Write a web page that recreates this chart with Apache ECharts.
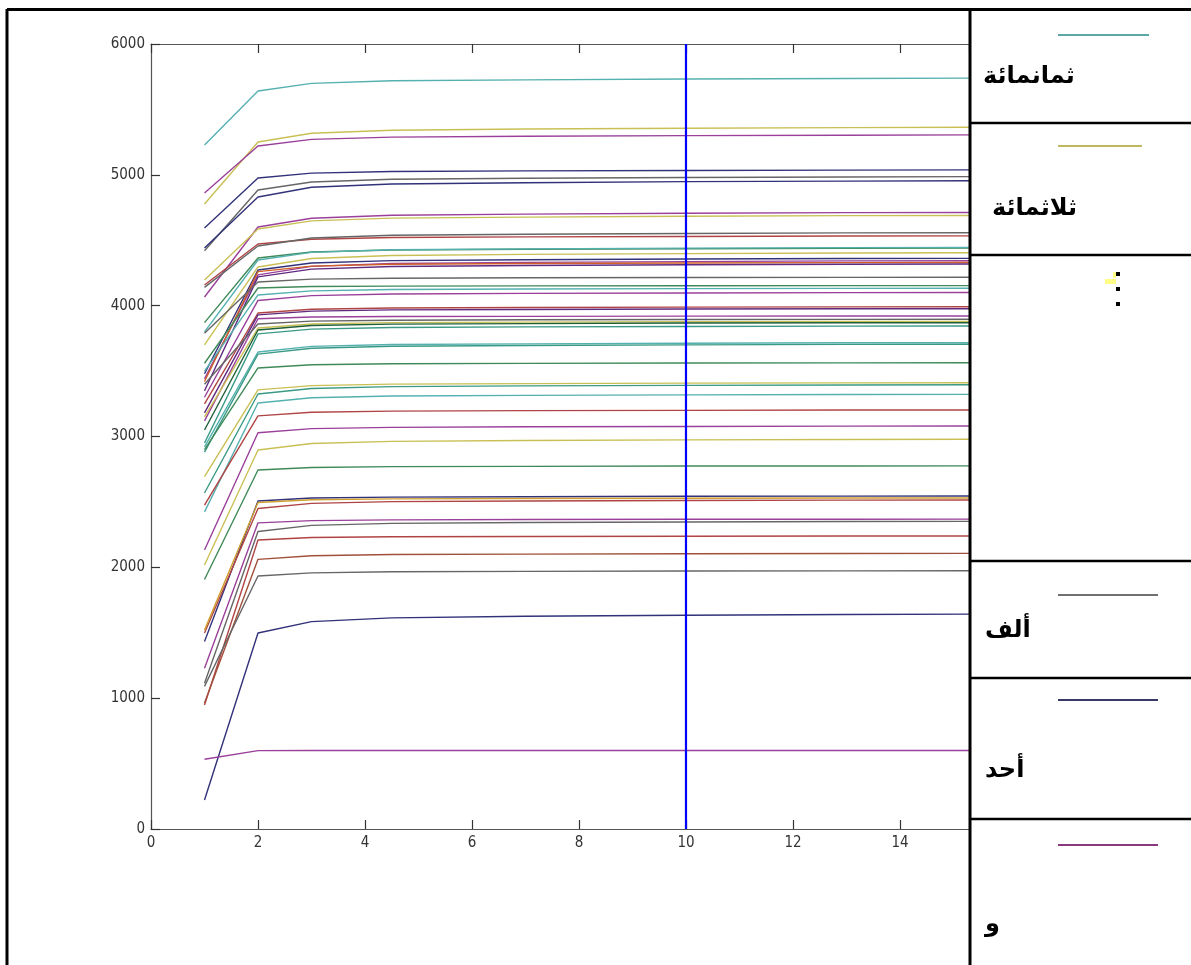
<!DOCTYPE html>
<html>
<head>
<meta charset="utf-8">
<script src="https://cdn.jsdelivr.net/npm/echarts@6/dist/echarts.min.js"></script>
<style>
html,body{margin:0;padding:0;background:#fff;}
#chart{width:1191px;height:965px;}
</style>
</head>
<body>
<div id="chart"></div>
<script>
// ---- data ----
const xPoints = [1, 2, 3, 4.5, 7, 10, 13, 16];
const yTicks = [0, 1000, 2000, 3000, 4000, 5000, 6000];
const xTicks = [0, 2, 4, 6, 8, 10, 12, 14];
const markerX = 10;

const line01 = [5228, 5641, 5699, 5719, 5726, 5732, 5736, 5740];
const line02 = [4777, 5251, 5318, 5341, 5350, 5356, 5361, 5365];
const line03 = [4861, 5220, 5271, 5288, 5295, 5300, 5303, 5306];
const line04 = [4594, 4976, 5013, 5025, 5030, 5033, 5036, 5038];
const line05 = [4420, 4884, 4945, 4966, 4974, 4980, 4984, 4987];
const line06 = [4441, 4831, 4905, 4930, 4940, 4948, 4952, 4956];
const line07 = [4066, 4601, 4668, 4691, 4700, 4706, 4711, 4713];
const line08 = [4196, 4586, 4648, 4669, 4677, 4684, 4688, 4690];
const line09 = [4158, 4471, 4508, 4521, 4526, 4529, 4532, 4534];
const line10 = [4140, 4456, 4517, 4538, 4546, 4552, 4556, 4558];
const line11 = [3870, 4364, 4410, 4425, 4431, 4435, 4438, 4440];
const line12 = [3800, 4349, 4407, 4427, 4434, 4440, 4444, 4446];
const line13 = [3700, 4296, 4361, 4383, 4392, 4398, 4403, 4405];
const line14 = [3480, 4273, 4326, 4344, 4351, 4357, 4360, 4362];
const line15 = [3440, 4235, 4300, 4322, 4331, 4337, 4342, 4344];
const line16 = [3420, 4260, 4302, 4316, 4322, 4326, 4329, 4330];
const line17 = [3350, 4220, 4279, 4299, 4307, 4313, 4317, 4319];
const line18 = [3790, 4181, 4203, 4210, 4213, 4215, 4216, 4217];
const line19 = [3560, 4135, 4146, 4149, 4151, 4152, 4153, 4153];
const line20 = [3500, 4082, 4113, 4123, 4127, 4130, 4132, 4133];
const line21 = [3300, 4040, 4077, 4089, 4094, 4097, 4100, 4101];
const line22 = [3250, 3944, 3973, 3982, 3986, 3989, 3991, 3992];
const line23 = [3180, 3930, 3958, 3968, 3971, 3974, 3976, 3977];
const line24 = [3120, 3900, 3913, 3917, 3918, 3920, 3921, 3921];
const line25 = [3400, 3860, 3882, 3889, 3892, 3894, 3895, 3896];
const line26 = [3150, 3829, 3860, 3870, 3874, 3877, 3879, 3880];
const line27 = [3050, 3814, 3848, 3859, 3863, 3867, 3869, 3870];
const line28 = [2950, 3784, 3821, 3833, 3838, 3841, 3844, 3845];
const line29 = [2920, 3646, 3689, 3703, 3708, 3713, 3716, 3717];
const line30 = [2880, 3630, 3675, 3690, 3696, 3700, 3704, 3705];
const line31 = [2900, 3524, 3548, 3556, 3559, 3562, 3563, 3564];
const line32 = [2693, 3356, 3389, 3400, 3404, 3408, 3410, 3411];
const line33 = [2568, 3325, 3367, 3381, 3387, 3391, 3394, 3396];
const line34 = [2424, 3256, 3296, 3309, 3314, 3318, 3321, 3322];
const line35 = [2476, 3158, 3185, 3194, 3198, 3200, 3202, 3203];
const line36 = [2132, 3029, 3060, 3070, 3074, 3077, 3079, 3080];
const line37 = [2018, 2897, 2946, 2963, 2969, 2974, 2977, 2979];
const line38 = [1907, 2744, 2763, 2770, 2772, 2774, 2775, 2776];
const line39 = [1434, 2507, 2530, 2537, 2540, 2543, 2544, 2545];
const line40 = [1498, 2450, 2489, 2502, 2507, 2511, 2514, 2515];
const line41 = [1520, 2495, 2516, 2523, 2526, 2528, 2530, 2530];
const line42 = [1228, 2340, 2357, 2363, 2366, 2367, 2368, 2369];
const line43 = [1114, 2274, 2321, 2336, 2343, 2347, 2350, 2352];
const line44 = [948, 2209, 2228, 2234, 2236, 2238, 2239, 2240];
const line45 = [963, 2061, 2089, 2098, 2101, 2104, 2106, 2107];
const line46 = [1090, 1934, 1958, 1966, 1969, 1972, 1973, 1974];
const line47 = [222, 1498, 1585, 1614, 1626, 1634, 1640, 1643];
const line48 = [533, 599, 600, 600, 600, 600, 600, 600];

const lineValues = [line01, line02, line03, line04, line05, line06, line07, line08,
  line09, line10, line11, line12, line13, line14, line15, line16, line17, line18,
  line19, line20, line21, line22, line23, line24, line25, line26, line27, line28,
  line29, line30, line31, line32, line33, line34, line35, line36, line37, line38,
  line39, line40, line41, line42, line43, line44, line45, line46, line47, line48];

// colour names per line
const lineColorNames = ['teal','yellow','purple','navy','gray','navy','purple','yellow',
  'red','gray','green','teal','yellow','navy','purple','orange','plum','gray',
  'green','teal','purple','red','plum','purple','gray','yellow','dkgreen','seagreen',
  'teal','seagreen','green','yellow','seagreen','teal','red','purple','yellow','green',
  'navy','red','orange2','purple','gray','red','brown','gray','navy','purple'];

const legendLabels = ['ثمانمائة', 'ثلاثمائة', 'ألف', 'أحد', 'و'];

// ---- styles ----
const palette = {
  teal: '#55b0b0', yellow: '#c9c055', purple: '#9a409a', navy: '#32327a',
  gray: '#666666', red: '#b04444', green: '#3f8a58', dkgreen: '#1f5f3a',
  seagreen: '#3a9a85', orange: '#d06028', orange2: '#d0a030', plum: '#602a80',
  brown: '#a0503a'
};

const series = lineValues.map(function (vals, i) {
  return {
    type: 'line',
    data: vals.map(function (v, j) { return [xPoints[j], v]; }),
    showSymbol: false,
    symbol: 'none',
    silent: true,
    lineStyle: { width: 1.4, color: palette[lineColorNames[i]] },
    z: 2
  };
});
series.push({
  type: 'line',
  data: [[markerX, yTicks[0]], [markerX, yTicks[yTicks.length - 1]]],
  showSymbol: false, symbol: 'none', silent: true,
  lineStyle: { width: 2.2, color: '#0000ff' },
  z: 3
});

const axisFont = { fontFamily: '"Liberation Sans Narrow", "DejaVu Sans Condensed", "Liberation Sans", Arial, sans-serif', fontSize: 15, color: '#333' };

const arabicFont = '"DejaVu Sans", "Noto Sans", sans-serif';

function hline(x1, x2, y, w, c) {
  return { type: 'line', shape: { x1: x1, y1: y, x2: x2, y2: y }, style: { stroke: c, lineWidth: w }, z: 100 };
}
function vline(x, y1, y2, w, c) {
  return { type: 'line', shape: { x1: x, y1: y1, x2: x, y2: y2 }, style: { stroke: c, lineWidth: w }, z: 100 };
}
function label(text, x, y) {
  return { type: 'text', x: x, y: y, z: 101,
    style: { text: text, fill: '#000', font: 'bold 24px ' + arabicFont, textAlign: 'left', textVerticalAlign: 'middle' } };
}

const graphics = [
  { type: 'rect', shape: { x: 971, y: 10, width: 220, height: 955 }, style: { fill: '#fff' }, z: 99 },
  vline(7, 9, 965, 3, '#000'),
  hline(7, 1191, 9.5, 3, '#000'),
  vline(970, 9, 965, 3, '#000'),
  hline(970, 1191, 123, 2.5, '#000'),
  hline(970, 1191, 255, 2.5, '#000'),
  hline(970, 1191, 561, 2.5, '#000'),
  hline(970, 1191, 678, 2.5, '#000'),
  hline(970, 1191, 819, 2.5, '#000'),
  // legend samples
  hline(1058, 1149, 35, 2, '#5aa8a8'),
  hline(1058, 1142, 146, 2, '#c0b860'),
  hline(1058, 1158, 595, 2, '#707070'),
  hline(1058, 1158, 700, 2, '#3a3a6a'),
  hline(1058, 1158, 845, 2, '#8a3a7a'),
  // dots
  { type: 'rect', shape: { x: 1105, y: 279, width: 11, height: 5 }, style: { fill: '#ffff88' }, z: 100 },
  { type: 'rect', shape: { x: 1113, y: 272, width: 3, height: 6 }, style: { fill: '#ffff88' }, z: 100 },
  { type: 'rect', shape: { x: 1116, y: 272, width: 4, height: 4 }, style: { fill: '#000' }, z: 101 },
  { type: 'rect', shape: { x: 1116, y: 287, width: 4, height: 4 }, style: { fill: '#000' }, z: 101 },
  { type: 'rect', shape: { x: 1116, y: 302, width: 4, height: 4 }, style: { fill: '#000' }, z: 101 },
  label(legendLabels[0], 983, 77),
  label(legendLabels[1], 992, 209),
  label(legendLabels[2], 985, 631),
  label(legendLabels[3], 985, 771),
  label(legendLabels[4], 985, 925)
];

const chart = echarts.init(document.getElementById('chart'), null, { renderer: 'canvas' });
chart.setOption({
  animation: false,
  backgroundColor: '#fff',
  grid: { left: 151, top: 44, width: 818, height: 785, containLabel: false },
  xAxis: [{
    type: 'value', min: xTicks[0], max: 15.29, interval: 2, position: 'bottom',
    axisLine: { show: true, lineStyle: { color: '#555', width: 1.2 } },
    axisTick: { show: true, inside: true, length: 9, lineStyle: { color: '#333', width: 1.2 } },
    axisLabel: Object.assign({ margin: 7, showMaxLabel: false, formatter: function (v) { return xTicks.indexOf(v) >= 0 ? String(v) : ''; } }, axisFont),
    splitLine: { show: false }
  }, {
    type: 'value', min: xTicks[0], max: 15.29, interval: 2, position: 'top',
    axisLine: { show: true, lineStyle: { color: '#555', width: 1.2 } },
    axisTick: { show: true, inside: true, length: 9, lineStyle: { color: '#333', width: 1.2 } },
    axisLabel: { show: false },
    splitLine: { show: false }
  }],
  yAxis: [{
    type: 'value', min: yTicks[0], max: yTicks[yTicks.length - 1], interval: 1000,
    axisLine: { show: true, lineStyle: { color: '#555', width: 1.2 } },
    axisTick: { show: true, inside: true, length: 9, lineStyle: { color: '#333', width: 1.2 } },
    axisLabel: Object.assign({ margin: 6, formatter: function (v) { return String(v); } }, axisFont),
    splitLine: { show: false }
  }],
  series: series,
  graphic: graphics
});
</script>
</body>
</html>
